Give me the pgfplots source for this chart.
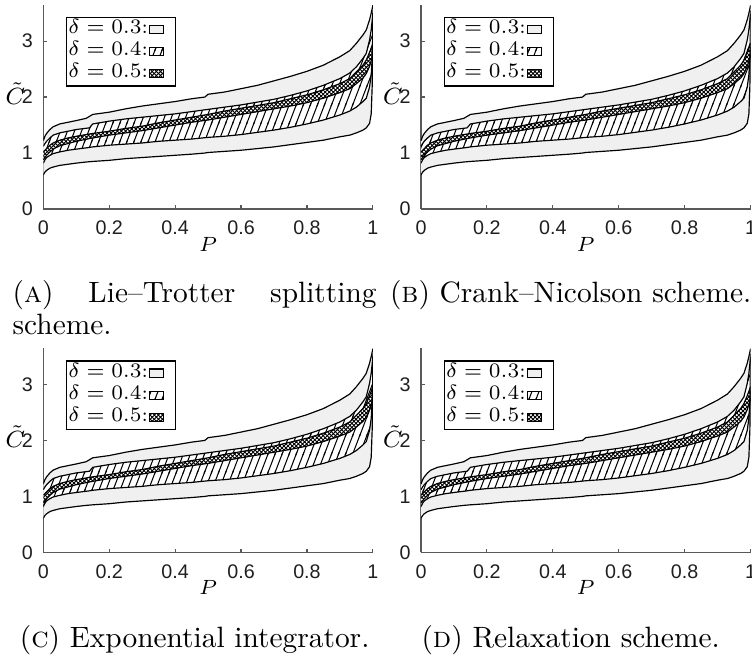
\documentclass[border=0pt]{standalone}
\usepackage{fontspec}
\newfontfamily\ticksans{Liberation Sans}
\usepackage{pgfplots}
\usepackage{pgfplotstable}
\pgfplotsset{compat=1.18}
\usepgfplotslibrary{fillbetween}
\usetikzlibrary{patterns}
\definecolor{lg}{RGB}{240,240,240}

\pgfdeclarepatternformonly{steeplines}{\pgfqpoint{-0.5pt}{-0.5pt}}{\pgfqpoint{2.9pt}{6.75pt}}{\pgfqpoint{2.4pt}{6.25pt}}{%
  \pgfsetlinewidth{0.35pt}%
  \pgfpathmoveto{\pgfqpoint{-0.192pt}{-0.5pt}}%
  \pgfpathlineto{\pgfqpoint{2.592pt}{6.75pt}}%
  \pgfusepath{stroke}%
}
\pgfdeclarepatternformonly{densecross}{\pgfqpoint{-0.2pt}{-0.2pt}}{\pgfqpoint{1.6pt}{1.6pt}}{\pgfqpoint{1.4pt}{1.4pt}}{%
  \pgfsetlinewidth{0.3pt}%
  \pgfpathmoveto{\pgfqpoint{-0.2pt}{-0.2pt}}%
  \pgfpathlineto{\pgfqpoint{1.6pt}{1.6pt}}%
  \pgfpathmoveto{\pgfqpoint{-0.2pt}{1.6pt}}%
  \pgfpathlineto{\pgfqpoint{1.6pt}{-0.2pt}}%
  \pgfusepath{stroke}%
}

\pgfplotstableread{
P     lo    hi
0     0.61  1.22
0.005 0.66  1.30
0.01  0.69  1.35
0.02  0.73  1.42
0.03  0.75  1.47
0.05  0.78  1.52
0.075 0.80  1.55
0.1   0.82  1.58
0.13  0.84  1.62
0.15  0.85  1.69
0.2   0.87  1.73
0.25  0.90  1.79
0.3   0.92  1.84
0.35  0.94  1.88
0.4   0.96  1.92
0.45  0.98  1.97
0.49  1.00  2.00
0.5   1.01  2.05
0.55  1.03  2.09
0.6   1.05  2.15
0.65  1.08  2.21
0.7   1.11  2.29
0.75  1.15  2.37
0.8   1.19  2.46
0.85  1.23  2.57
0.9   1.29  2.72
0.93  1.32  2.83
0.95  1.36  2.96
0.97  1.41  3.11
0.98  1.45  3.20
0.99  1.53  3.38
0.995 1.70  3.50
0.998 2.20  3.58
1     3.55  3.64
}\tA

\pgfplotstableread{
P     lo    hi
0     0.82  1.12
0.005 0.88  1.17
0.01  0.92  1.21
0.02  0.96  1.27
0.03  0.99  1.32
0.05  1.02  1.36
0.075 1.05  1.39
0.1   1.07  1.42
0.14  1.10  1.45
0.15  1.11  1.52
0.2   1.14  1.57
0.25  1.16  1.61
0.3   1.18  1.64
0.35  1.21  1.67
0.4   1.23  1.70
0.45  1.25  1.74
0.5   1.28  1.78
0.55  1.30  1.82
0.6   1.33  1.86
0.65  1.37  1.91
0.7   1.41  1.96
0.75  1.46  2.03
0.8   1.52  2.11
0.85  1.59  2.21
0.9   1.68  2.33
0.93  1.75  2.43
0.95  1.82  2.54
0.97  1.92  2.69
0.98  1.98  2.78
0.99  2.18  3.02
0.995 2.40  3.20
1     2.90  3.49
}\tB

\pgfplotstableread{
P     lo    hi
0     0.88  1.02
0.005 0.92  1.05
0.01  0.96  1.08
0.02  1.02  1.14
0.03  1.07  1.18
0.05  1.13  1.23
0.075 1.17  1.27
0.1   1.21  1.30
0.15  1.27  1.35
0.2   1.32  1.39
0.25  1.36  1.44
0.3   1.40  1.48
0.35  1.45  1.54
0.4   1.50  1.59
0.45  1.55  1.64
0.5   1.59  1.69
0.55  1.64  1.75
0.6   1.69  1.80
0.65  1.74  1.85
0.7   1.79  1.90
0.75  1.84  1.97
0.8   1.90  2.04
0.85  1.98  2.13
0.9   2.08  2.24
0.93  2.15  2.33
0.95  2.24  2.45
0.97  2.34  2.57
0.98  2.42  2.66
0.99  2.55  2.80
1     2.75  2.96
}\tC

\tikzset{
  hatchB/.style={pattern=steeplines, pattern color=black},
  hatchC/.style={pattern=densecross, pattern color=black},
}

\pgfplotsset{
  panel/.style={
    scale only axis, width=112.1pt, height=69.5pt,
    xmin=0, xmax=1, ymin=0, ymax=3.65,
    axis x line=bottom, axis y line=left,
    axis line style={-, black!65, line width=0.4pt},
    xtick={0,0.2,0.4,0.6,0.8,1}, ytick={0,1,2,3},
    tick align=inside, major tick length=1.3pt,
    tick style={black!65, line width=0.4pt},
    ticklabel style={font=\ticksans\fontsize{6.7}{8}\selectfont, text=black!88},
    xticklabel style={yshift=-0.6pt},
    /pgf/number format/assume math mode=true,
    xlabel={$P$}, ylabel={$\tilde{C}$},
    xlabel style={font=\fontsize{7.5}{9}\selectfont, at={(axis description cs:0.5,0)}, anchor=center, yshift=-12pt},
    ylabel style={font=\fontsize{8}{9}\selectfont, at={(axis description cs:-0.085,0.566)}, rotate=-90, anchor=center},
    legend style={at={(axis description cs:0.069,0.94)}, anchor=north west,
      draw=black, line width=0.4pt, fill=white,
      inner xsep=0.3pt, inner ysep=0.4pt, row sep=0pt,
      font=\fontsize{6.7}{7.5}\selectfont,
      nodes={inner xsep=0.3pt, inner ysep=0pt, text height=5.1pt, text depth=2.4pt}},
    legend plot pos=right, legend cell align=left,
    legend image code/.code={\draw[##1, line width=0.35pt] (0pt,-1.4pt) rectangle (4.8pt,1.4pt); \path (8.4pt,0pt);},
  }
}

\newcommand{\bands}{%
  \addplot[draw=none, name path=ah, forget plot] table[x=P,y=hi]{\tA};
  \addplot[draw=none, name path=al, forget plot] table[x=P,y=lo]{\tA};
  \addplot[fill=lg, draw=none, forget plot] fill between[of=ah and al];
  \addplot[black, line width=0.4pt, forget plot] table[x=P,y=hi]{\tA};
  \addplot[black, line width=0.4pt, forget plot] table[x=P,y=lo]{\tA};
  \addplot[draw=none, name path=bh, forget plot] table[x=P,y=hi]{\tB};
  \addplot[draw=none, name path=bl, forget plot] table[x=P,y=lo]{\tB};
  \addplot[fill=white, draw=none, forget plot] fill between[of=bh and bl];
  \addplot[hatchB, draw=none, forget plot] fill between[of=bh and bl];
  \addplot[black, line width=0.4pt, forget plot] table[x=P,y=hi]{\tB};
  \addplot[black, line width=0.4pt, forget plot] table[x=P,y=lo]{\tB};
  \addplot[draw=none, name path=ch, forget plot] table[x=P,y=hi]{\tC};
  \addplot[draw=none, name path=cl, forget plot] table[x=P,y=lo]{\tC};
  \addplot[fill=white, draw=none, forget plot] fill between[of=ch and cl];
  \addplot[hatchC, draw=none, forget plot] fill between[of=ch and cl];
  \addplot[black, line width=0.4pt, forget plot] table[x=P,y=hi]{\tC};
  \addplot[black, line width=0.4pt, forget plot] table[x=P,y=lo]{\tC};
  \addlegendimage{draw=black, fill=lg}
  \addlegendentry{$\delta=0.3$:}
  \addlegendimage{draw=black, hatchB}
  \addlegendentry{$\delta=0.4$:}
  \addlegendimage{draw=black, hatchC}
  \addlegendentry{$\delta=0.5$:}
}

\newcommand{\capfont}{\fontsize{10}{10.9}\selectfont}

\begin{document}
\begin{tikzpicture}
\path (0,0) rectangle (255.8pt,223.1pt);

\begin{axis}[panel, at={(14.73pt,152.0pt)}, anchor=south west]
\bands
\end{axis}
\begin{axis}[panel, at={(143.2pt,152.0pt)}, anchor=south west]
\bands
\end{axis}
\begin{axis}[panel, at={(14.73pt,35.2pt)}, anchor=south west]
\bands
\end{axis}
\begin{axis}[panel, at={(143.2pt,35.2pt)}, anchor=south west]
\bands
\end{axis}

\node[anchor=base west, inner sep=0pt] at (4.1pt,120.1pt)
  {\parbox[t]{123.8pt}{\capfont\tolerance=10000\hyphenpenalty=10000\exhyphenpenalty=10000
   (\textsc{a})\ Lie--Trotter \mbox{splitting} scheme.}};
\node[anchor=base west, inner sep=0pt] at (132.0pt,120.1pt)
  {\parbox[t]{123.8pt}{\capfont\centering (\textsc{b}) Crank--Nicolson scheme.}};
\node[anchor=base west, inner sep=0pt] at (4.1pt,3.0pt)
  {\parbox[t]{123.8pt}{\capfont\centering (\textsc{c}) Exponential integrator.}};
\node[anchor=base west, inner sep=0pt] at (132.0pt,3.0pt)
  {\parbox[t]{123.8pt}{\capfont\centering (\textsc{d}) Relaxation scheme.}};
\pgfresetboundingbox
\path[use as bounding box] (0,0) rectangle (255.8pt,223.1pt);
\end{tikzpicture}
\end{document}
